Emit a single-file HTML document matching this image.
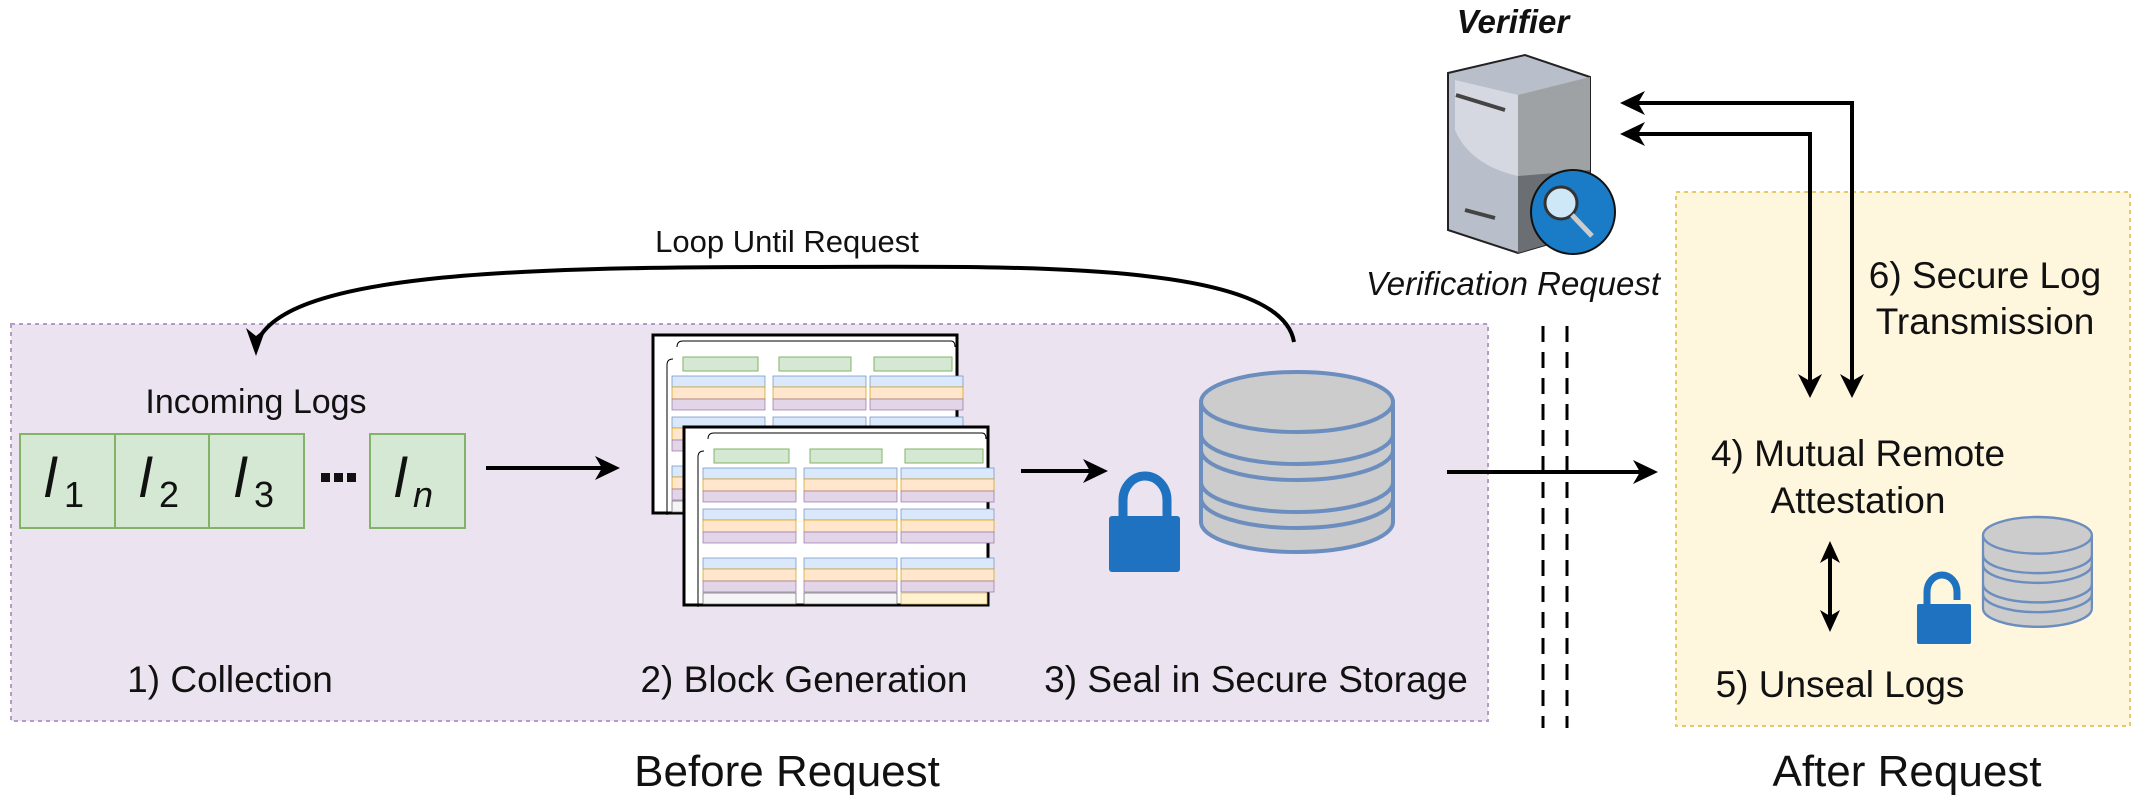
<!DOCTYPE html>
<html><head><meta charset="utf-8"><style>
html,body{margin:0;padding:0;background:#fff;}
svg{display:block;}
text{font-family:"Liberation Sans",sans-serif;fill:#111;}
</style></head><body>
<svg width="2146" height="803" viewBox="0 0 2146 803" xmlns="http://www.w3.org/2000/svg">
<defs>
<g id="doc">
  <rect x="0" y="0" width="304" height="178" fill="#fff" stroke="#000" stroke-width="3"/>
  <path d="M24 12 Q24 6 30 6 L298 6 Q302 6 302 12" fill="none" stroke="#000" stroke-width="1"/>
  <path d="M14 180 L14 30 Q14 24 20 24" fill="none" stroke="#000" stroke-width="1"/>
  <rect x="30" y="22" width="75" height="14" fill="#d5e8d4" stroke="#82b366"/>
  <rect x="126" y="22" width="72" height="14" fill="#d5e8d4" stroke="#82b366"/>
  <rect x="221" y="22" width="78" height="14" fill="#d5e8d4" stroke="#82b366"/>
  <g id="colset">
    <rect x="19" y="41" width="93" height="11" fill="#dae8fc" stroke="#6c8ebf" stroke-width=".7"/>
    <rect x="19" y="52" width="93" height="12" fill="#ffe6cc" stroke="#d79b00" stroke-width=".7"/>
    <rect x="19" y="64" width="93" height="11" fill="#e1d5e7" stroke="#9673a6" stroke-width=".7"/>
  </g>
  <use href="#colset" x="101"/><use href="#colset" x="198"/>
  <use href="#colset" y="41"/><use href="#colset" x="101" y="41"/><use href="#colset" x="198" y="41"/>
  <use href="#colset" y="90"/><use href="#colset" x="101" y="90"/><use href="#colset" x="198" y="90"/>
  <rect x="19" y="166" width="93" height="11" fill="#f5f5f5" stroke="#666" stroke-width=".7"/>
  <rect x="120" y="166" width="93" height="11" fill="#f5f5f5" stroke="#666" stroke-width=".7"/>
  <rect x="217" y="166" width="86" height="11" fill="#fff2cc" stroke="#d6b656" stroke-width=".7"/>
</g>
<g id="db">
  <path d="M0 30 L0 150 A96 30 0 0 0 192 150 L192 30" fill="#ccc" stroke="#6c8ebf" stroke-width="4"/>
  <ellipse cx="96" cy="30" rx="96" ry="30" fill="#ccc" stroke="#6c8ebf" stroke-width="4"/>
  <path d="M0 62 A96 30 0 0 0 192 62 M0 78 A96 30 0 0 0 192 78 M0 110 A96 30 0 0 0 192 110 M0 126 A96 30 0 0 0 192 126" fill="none" stroke="#6c8ebf" stroke-width="4"/>
</g>
</defs>

<rect x="11" y="324" width="1477" height="397" fill="#ebe3ef" stroke="#b69bc6" stroke-width="2" stroke-dasharray="4 4"/>
<rect x="1676" y="192" width="454" height="534" fill="#fff6de" stroke="#e6c96a" stroke-width="2" stroke-dasharray="4 4"/>
<line x1="1543" y1="326" x2="1543" y2="728" stroke="#000" stroke-width="3" stroke-dasharray="16 10"/>
<line x1="1567" y1="326" x2="1567" y2="728" stroke="#000" stroke-width="3" stroke-dasharray="16 10"/>

<text x="256" y="413" font-size="34" text-anchor="middle">Incoming Logs</text>
<rect x="20" y="434" width="95" height="94" fill="#d5e8d4" stroke="#82b366" stroke-width="2"/>
<rect x="115" y="434" width="94" height="94" fill="#d5e8d4" stroke="#82b366" stroke-width="2"/>
<rect x="209" y="434" width="95" height="94" fill="#d5e8d4" stroke="#82b366" stroke-width="2"/>
<rect x="370" y="434" width="95" height="94" fill="#d5e8d4" stroke="#82b366" stroke-width="2"/>
<g font-size="56">
<text x="44" y="497" font-family="DejaVu Serif,serif" font-style="italic">l</text><text x="64" y="507" font-size="36" font-family="DejaVu Serif,serif">1</text>
<text x="139" y="497" font-family="DejaVu Serif,serif" font-style="italic">l</text><text x="159" y="507" font-size="36" font-family="DejaVu Serif,serif">2</text>
<text x="234" y="497" font-family="DejaVu Serif,serif" font-style="italic">l</text><text x="254" y="507" font-size="36" font-family="DejaVu Serif,serif">3</text>
<text x="394" y="497" font-family="DejaVu Serif,serif" font-style="italic">l</text><text x="413" y="507" font-size="36" font-style="italic" font-family="DejaVu Serif,serif">n</text>
</g>
<rect x="321" y="473" width="9" height="9" fill="#111"/><rect x="334" y="473" width="9" height="9" fill="#111"/><rect x="347" y="473" width="9" height="9" fill="#111"/>

<path d="M1294 342 C1280 258 1000 267 787 267 C500 267 280 275 256 345" fill="none" stroke="#000" stroke-width="4"/>
<path d="M256 356 L246 328 L256 336 L266 328 Z" fill="#000"/>
<text x="787" y="252" font-size="31" text-anchor="middle">Loop Until Request</text>

<g stroke="#000" stroke-width="4" fill="none">
<line x1="486" y1="468" x2="612" y2="468"/>
<line x1="1021" y1="471" x2="1100" y2="471"/>
<line x1="1447" y1="472" x2="1650" y2="472"/>
<polyline points="1852,390 1852,103 1628,103"/>
<polyline points="1810,390 1810,134 1628,134"/>
<line x1="1830" y1="550" x2="1830" y2="622"/>
</g>
<g fill="#000">
<path d="M620 468 L595 456 L602 468 L595 480 Z"/>
<path d="M1108 471 L1083 459 L1090 471 L1083 483 Z"/>
<path d="M1658 472 L1633 460 L1640 472 L1633 484 Z"/>
<path d="M1620 103 L1645 91 L1638 103 L1645 115 Z"/>
<path d="M1620 134 L1645 122 L1638 134 L1645 146 Z"/>
<path d="M1852 398 L1840 374 L1852 381 L1864 374 Z"/>
<path d="M1810 398 L1798 374 L1810 381 L1822 374 Z"/>
<path d="M1830 541 L1820 563 L1830 557 L1840 563 Z"/>
<path d="M1830 632 L1820 610 L1830 616 L1840 610 Z"/>
</g>

<use href="#doc" x="653" y="335"/>
<use href="#doc" x="684" y="427"/>

<path d="M1123 520 L1123 500 A22 24 0 0 1 1167 500 L1167 520" fill="none" stroke="#1f72c0" stroke-width="9"/>
<rect x="1109" y="516" width="71" height="56" rx="3" fill="#1f72c0"/>
<use href="#db" x="1201" y="372"/>

<path d="M1927 608 L1927 592 A15 17 0 0 1 1957 592 L1957 600" fill="none" stroke="#1f72c0" stroke-width="7"/>
<rect x="1917" y="604" width="54" height="40" rx="2" fill="#1f72c0"/>
<g transform="translate(1983,517) scale(0.567,0.61)"><use href="#db"/></g>

<!-- server -->
<path d="M1448 73 L1525 55 L1590 77 L1590 232 L1518 253 L1448 230 Z" fill="#b9bfca" stroke="#222" stroke-width="2"/>
<path d="M1518 95 L1590 77 L1590 170 L1518 176 Z" fill="#9fa2a5"/>
<path d="M1518 176 L1590 170 L1590 232 L1518 253 Z" fill="#6b6e72"/>
<path d="M1455 80 L1518 95 L1518 176 Q1470 165 1455 130 Z" fill="#d5d8e0"/>
<line x1="1456" y1="95" x2="1505" y2="110" stroke="#444" stroke-width="4"/>
<line x1="1465" y1="210" x2="1495" y2="218" stroke="#444" stroke-width="4"/>
<circle cx="1573" cy="212" r="42" fill="#1a7cc6" stroke="#111" stroke-width="2"/>
<circle cx="1561" cy="203" r="16" fill="#cfe8f8" stroke="#333" stroke-width="3"/>
<line x1="1572" y1="215" x2="1592" y2="236" stroke="#ccc" stroke-width="5"/>
<text x="1513" y="33" font-size="33" font-weight="bold" font-style="italic" text-anchor="middle">Verifier</text>
<text x="1513" y="295" font-size="33" font-style="italic" text-anchor="middle">Verification Request</text>

<g font-size="37" text-anchor="middle">
<text x="1985" y="288">6) Secure Log</text>
<text x="1985" y="334">Transmission</text>
<text x="1858" y="466">4) Mutual Remote</text>
<text x="1858" y="513">Attestation</text>
<text x="1840" y="697">5) Unseal Logs</text>
<text x="230" y="692">1) Collection</text>
<text x="804" y="692">2) Block Generation</text>
<text x="1256" y="692">3) Seal in Secure Storage</text>
</g>
<text x="787" y="786" font-size="44" text-anchor="middle">Before Request</text>
<text x="1907" y="786" font-size="44" text-anchor="middle">After Request</text>
</svg>
</body></html>
